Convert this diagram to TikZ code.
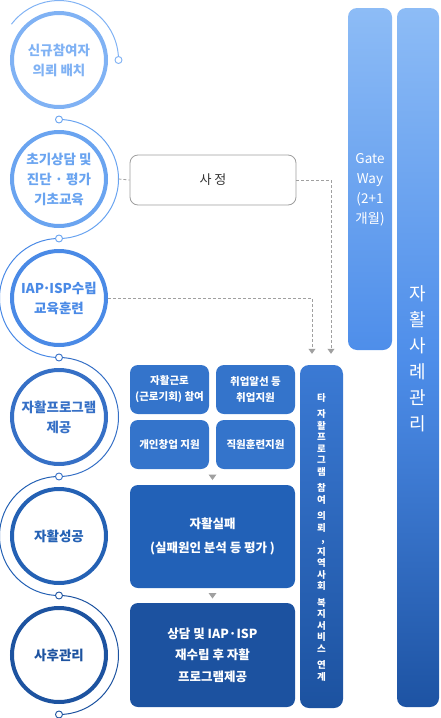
\documentclass[tikz,border=0pt]{standalone}
\usepackage{fontspec}
\setmainfont{Noto Sans CJK KR}
\usetikzlibrary{calc,arrows.meta}
\definecolor{cA}{HTML}{80B2F4}
\definecolor{cB}{HTML}{6AA4F0}
\definecolor{cC}{HTML}{4A8AE6}
\definecolor{cD}{HTML}{3670C6}
\definecolor{cE}{HTML}{2461B4}
\definecolor{cF}{HTML}{1D53A0}
\definecolor{bxA}{HTML}{3474CB}
\definecolor{bxE}{HTML}{2261B7}
\definecolor{bxF}{HTML}{1C52A0}
\definecolor{gtop}{HTML}{8DBCF6}
\definecolor{gmid}{HTML}{4E8EEA}
\definecolor{gbot}{HTML}{1D53A3}
\definecolor{vtop}{HTML}{3B7AD4}
\definecolor{dgray}{HTML}{A0A0A0}
\begin{document}
\begin{tikzpicture}[x=1pt,y=-1pt,
  ring/.style={circle,draw=#1,line width=4pt,minimum size=94pt,inner sep=0pt,text=#1,align=center,
    font=\fontsize{13.5}{20}\selectfont\bfseries},
  thinarc/.style={draw=#1,line width=1pt},
  jn/.style={circle,draw=#1,fill=white,line width=0.9pt,minimum size=7pt,inner sep=0pt},
  bluebox/.style={rounded corners=8pt,fill=#1,text=white,align=center,inner sep=0pt},
  smallbox/.style={bluebox=bxA,minimum width=79pt,minimum height=49pt,
    font=\fontsize{10.5}{16}\selectfont\bfseries},
  dline/.style={draw=dgray,line width=0.8pt,dash pattern=on 3pt off 2pt},
  tip/.style={-{Triangle[width=7pt,length=5pt]}},
]
\useasboundingbox (0,0) rectangle (440,718);

% thin arcs
\draw[thinarc=cA] (11.5,24.2) arc[start angle=-143,end angle=0,radius=59.5];
\draw[thinarc=cB] (59,119.5) arc[start angle=-90,end angle=90,radius=59.5];
\draw[thinarc=cC] (59,238.5) arc[start angle=270,end angle=90,radius=59.5];
\draw[thinarc=cD] (59,357.5) arc[start angle=-90,end angle=90,radius=59.5];
\draw[thinarc=cE] (59,476.5) arc[start angle=270,end angle=90,radius=59.5];
\draw[thinarc=cF] (59,595.5) arc[start angle=-90,end angle=90,radius=59.5];

% circles
\node[ring=cA] (n1) at (59,60) {신규참여자\\의뢰 배치};
\node[ring=cB] (n2) at (59,179) {초기상담 및\\진단 · 평가\\기초교육};
\node[ring=cC] (n3) at (59,298) {IAP\kern-1.5pt ·\kern-1.5pt ISP수립\\교육훈련};
\node[ring=cD] (n4) at (59,417) {자활프로그램\\제공};
\node[ring=cE] (n5) at (59,536) {자활성공};
\node[ring=cF] (n6) at (59,655) {사후관리};

% junctions
\node[jn=cA] (j0) at (118.5,60) {};
\node[jn=cB] (j1) at (59,119.5) {};
\node[jn=cB] (j2) at (59,238.5) {};
\node[jn=cD] (j3) at (59,357.5) {};
\node[jn=cD] (j4) at (59,476.5) {};
\node[jn=cF] (j5) at (59,595.5) {};
\node[jn=cF] (j6) at (59,714.5) {};

% assessment box
\node[draw=black!38,rounded corners=8pt,line width=0.8pt,minimum width=166pt,minimum height=50pt,
  fill=white,text=black!80,font=\fontsize{13}{15}\selectfont] (sa) at (213,180) {사 정};

% right columns
\node[rounded corners=9pt,top color=gtop,bottom color=gmid,minimum width=44pt,minimum height=342pt,
  inner sep=0pt] (gw) at (370,179) {};
\node[text=white,align=center,font=\fontsize{13.5}{20}\selectfont] (gwt) at (370,190) {Gate\\Way\\(2+1\\개월)};
\node[rounded corners=9pt,top color=gtop,bottom color=gbot,middle color=gmid,minimum width=42pt,minimum height=699pt,
  inner sep=0pt] (jr) at (418,357.5) {};
\node[text=white,align=center,font=\fontsize{18}{26}\selectfont] (jrt) at (418,359) {자\\활\\사\\례\\관\\리};

% vertical box
\node[rounded corners=9pt,top color=vtop,bottom color=bxF,minimum width=43pt,minimum height=343pt,
  inner sep=0pt] (vt) at (321.5,536.5) {};
\node[text=white,align=center,font=\fontsize{9.5}{11.5}\selectfont\bfseries] (vtt) at (321.5,537)
  {타\\[5pt]자\\활\\프\\로\\그\\램\\[5pt]참\\여\\[5pt]의\\뢰\\\hspace{3pt},\\[1pt]지\\역\\사\\회\\[5pt]복\\지\\서\\비\\스\\[5pt]연\\계};

% blue boxes
\node[smallbox] (bA) at (169.5,389.5) {자활근로\\(근로기회) 참여};
\node[smallbox] (bB) at (255.5,389.5) {취업알선 등\\취업지원};
\node[smallbox] (bC) at (169.5,444.5) {개인창업 지원};
\node[smallbox] (bD) at (255.5,444.5) {직원훈련지원};
\node[bluebox=bxE,minimum width=165pt,minimum height=103pt,font=\fontsize{12.5}{24}\selectfont\bfseries]
  (bE) at (212.5,536.5) {자활실패\\(실패원인 분석 등 평가 )};
\node[bluebox=bxF,minimum width=165pt,minimum height=104pt,font=\fontsize{12.5}{21.5}\selectfont\bfseries]
  (bF) at (212.5,655) {상담 및 IAP·ISP\\재수립 후 자활\\프로그램제공};

% small down triangles
\coordinate (m1) at ($(bE.north)!0.5!(bE.north |- bC.south)$);
\coordinate (m2) at ($(bF.north)!0.5!(bF.north |- bE.south)$);
\fill[dgray] (m1) ++(-4,-2.5) -- ++(8,0) -- ++(-4,5.5) -- cycle;
\fill[dgray] (m2) ++(-4,-2.5) -- ++(8,0) -- ++(-4,5.5) -- cycle;

% dashed connectors
\coordinate (a2) at (118.5,179);
\coordinate (t1) at ($(vt.north)+(-9.5,-11)$);
\coordinate (t2) at ($(vt.north)+(9.5,-11)$);
\draw[dline] (a2) -- (sa.west);
\draw[dline,tip] (sa.east) -| (t2);
\draw[dline,tip] (n3.east) -| (t1);
\end{tikzpicture}
\end{document}
